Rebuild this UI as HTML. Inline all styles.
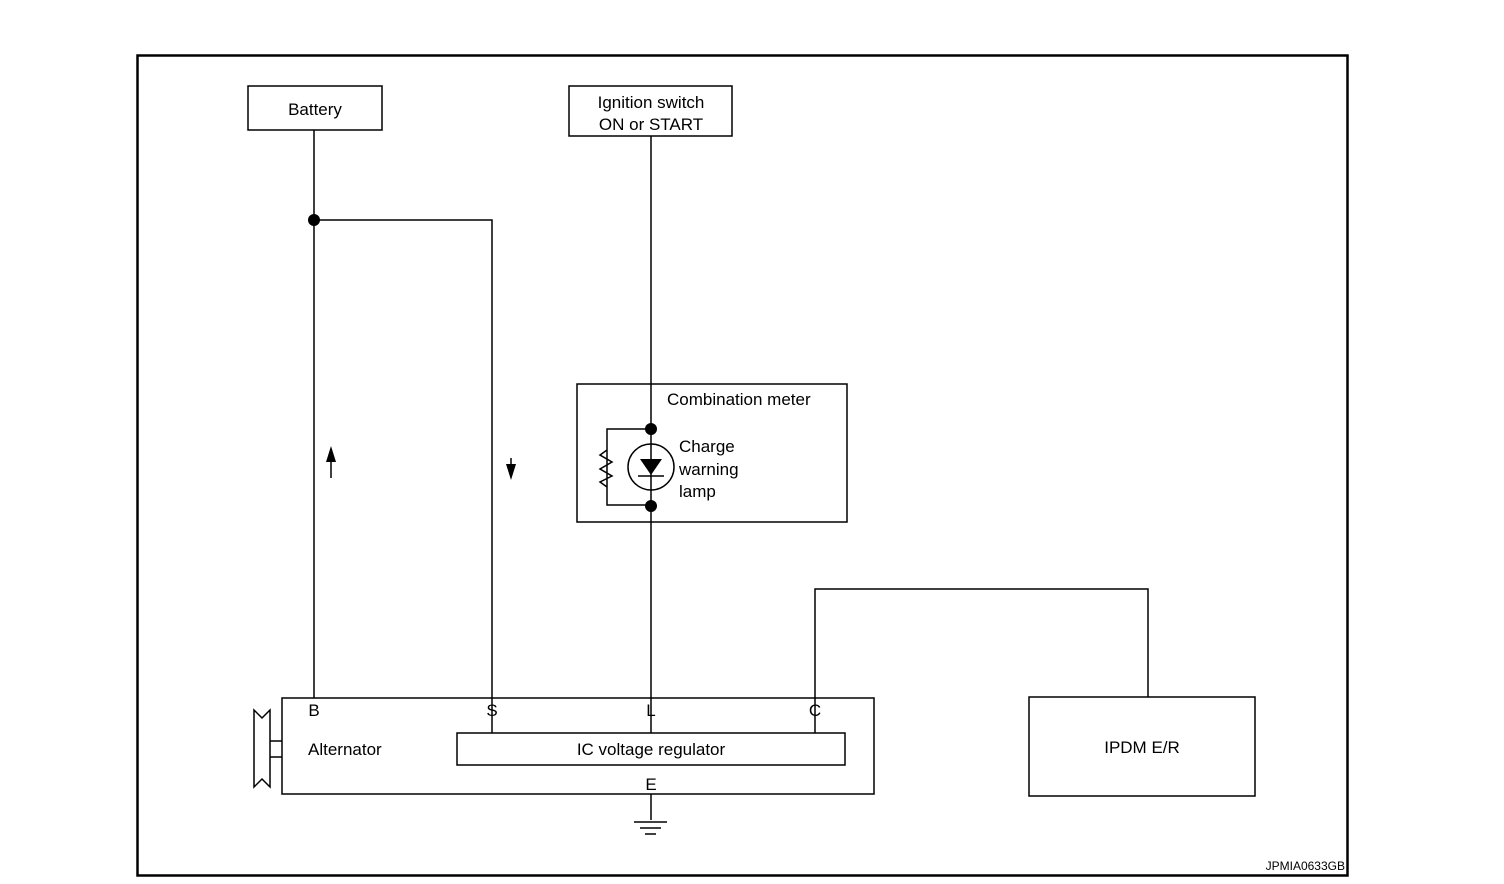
<!DOCTYPE html>
<html><head><style>body{margin:0;background:#fff}svg{display:block}text{font-family:"Liberation Sans",sans-serif;font-size:17px;fill:#000}</style></head><body>
<svg width="1504" height="884" viewBox="0 0 1504 884" xmlns="http://www.w3.org/2000/svg">
<g fill="none" stroke="#000" stroke-width="1.5">
<rect x="137.5" y="55.5" width="1210" height="820" stroke-width="2.5"/>
<rect x="248" y="86" width="134" height="44"/>
<rect x="569" y="86" width="163" height="50"/>
<rect x="577" y="384" width="270" height="138"/>
<rect x="282" y="698" width="592" height="96"/>
<rect x="457" y="733" width="388" height="32"/>
<rect x="1029" y="697" width="226" height="99"/>
<path d="M314 130V698M314 220H492V698M651 136V698M492 698V733M651 698V733M815 698V733M815 698V589H1148V697M651 794V820"/>
<path d="M651 429H607V505H651M607 450L600 455L612 462L600 469L612 476L600 482L607 487"/>
<circle cx="651" cy="467" r="23"/>
<path d="M638 476H664"/>
<path d="M634 822H667M640 828H661M645 834H656"/>
<path d="M254 710L262 718L270 710V787L262 779L254 787ZM270 741H282M270 757H282"/>
<path d="M331 456V478M511 458V468"/>
</g>
<g fill="#000">
<circle cx="314" cy="220" r="6"/><circle cx="651" cy="429" r="6"/><circle cx="651" cy="506" r="6"/>
<path d="M640 459H662L651 475Z"/>
<path d="M331 446L326 462H336Z"/><path d="M511 480L506 464H516Z"/>
</g>
<text x="315" y="115" text-anchor="middle">Battery</text>
<text x="651" y="108" text-anchor="middle">Ignition switch</text>
<text x="651" y="130" text-anchor="middle">ON or START</text>
<text x="667" y="405">Combination meter</text>
<text x="679" y="452">Charge</text><text x="679" y="475">warning</text><text x="679" y="497">lamp</text>
<text x="314" y="716" text-anchor="middle">B</text>
<text x="492" y="716" text-anchor="middle">S</text>
<text x="651" y="716" text-anchor="middle">L</text>
<text x="815" y="716" text-anchor="middle">C</text>
<text x="651" y="790" text-anchor="middle">E</text>
<text x="308" y="755">Alternator</text>
<text x="651" y="755" text-anchor="middle">IC voltage regulator</text>
<text x="1142" y="753" text-anchor="middle">IPDM E/R</text>
<text x="1345" y="870" text-anchor="end" style="font-size:12px">JPMIA0633GB</text>
</svg></body></html>
